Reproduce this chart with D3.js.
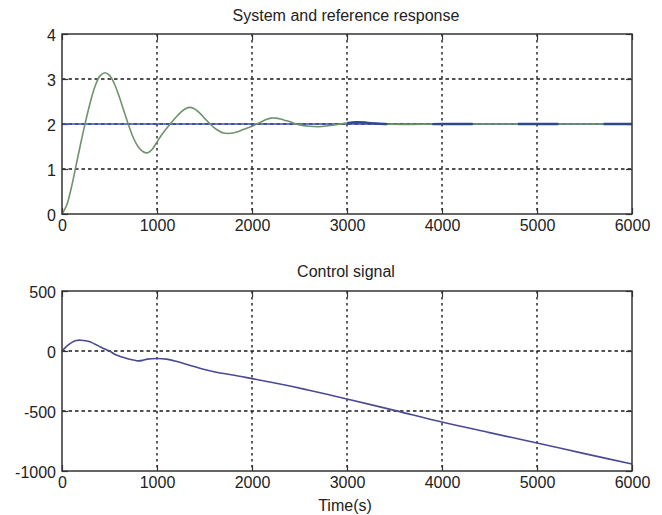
<!DOCTYPE html>
<html>
<head>
<meta charset="utf-8">
<script src="https://cdn.jsdelivr.net/npm/d3@7"></script>
<style>
  body { margin: 0; background: #fff; }
  text { font-family: "Liberation Sans", Arial, sans-serif; fill: #222; }
</style>
</head>
<body>
<svg width="662" height="515"></svg>
<script>
// system response (green) and reference (blue)
var respTime = [0, 50, 100, 150, 200, 250, 300, 350, 400, 450, 500, 550, 600, 650, 700, 750, 800, 850, 900, 950,
  1000, 1050, 1100, 1150, 1200, 1250, 1300, 1350, 1400, 1450, 1500, 1550, 1600, 1650, 1700, 1750, 1800, 1850, 1900, 1950,
  2000, 2050, 2100, 2150, 2200, 2250, 2300, 2350, 2400, 2450, 2500, 2600, 2700, 2800, 2900, 3000, 3100, 3200, 3300, 3400,
  3600, 4000, 5000, 6000];
var respValue = [0, 0.2, 0.6, 1.1, 1.6, 2.07, 2.5, 2.85, 3.07, 3.14, 3.08, 2.9, 2.62, 2.3, 1.98, 1.7, 1.5, 1.39, 1.36, 1.44,
  1.6, 1.76, 1.9, 2.03, 2.15, 2.26, 2.34, 2.37, 2.33, 2.24, 2.13, 2.02, 1.92, 1.85, 1.8, 1.79, 1.8, 1.83, 1.87, 1.91,
  1.95, 2.0, 2.05, 2.1, 2.13, 2.13, 2.11, 2.08, 2.05, 2.01, 1.98, 1.95, 1.94, 1.96, 1.99, 2.02, 2.04, 2.03, 2.01, 2.0,
  1.99, 2.0, 2.0, 2.0];
var refTime = [0, 6000];
var refValue = [2, 2];

// control signal
var ctrlTime = [0, 50, 100, 150, 200, 250, 300, 350, 400, 450, 500, 550, 600, 650, 700, 750, 800, 850, 900, 1000,
  1100, 1200, 1300, 1400, 1500, 1600, 1700, 1800, 1900, 2000, 2200, 2400, 2600, 2800, 3000, 3500, 4000, 4500, 5000, 5500, 6000];
var ctrlValue = [0, 40, 70, 88, 90, 86, 75, 56, 36, 16, 0, -25, -42, -55, -66, -75, -82, -78, -68, -63,
  -68, -85, -108, -132, -155, -173, -188, -200, -215, -230, -260, -292, -327, -363, -400, -495, -592, -680, -767, -855, -942];

var xTicks = [0, 1000, 2000, 3000, 4000, 5000, 6000];
var topYTicks = [0, 1, 2, 3, 4];
var botYTicks = [-1000, -500, 0, 500];

var svg = d3.select('svg');

function zip(a, b) {
  return a.map(function (d, i) { return [d, b[i]]; });
}

// matlab prints a plain hyphen for negatives
function plain(d) { return String(d); }

function makeAxes(top, bottom, yDomain, yTicks, title, titleY) {
  var x = d3.scaleLinear().domain([0, 6000]).range([62, 632]);
  var y = d3.scaleLinear().domain(yDomain).range([bottom, top]);

  var g = svg.append('g');

  // grid
  g.selectAll('.vg')
  .data(xTicks.slice(1, -1))
  .enter().append('line')
  .attr('x1', function (d) { return x(d); })
  .attr('x2', function (d) { return x(d); })
  .attr('y1', top)
  .attr('y2', bottom)
  .attr('stroke', '#1a1a1a')
  .attr('stroke-width', 1.4)
  .attr('stroke-dasharray', '2.5,3.5');

  g.selectAll('.hg')
  .data(yTicks.slice(1, -1))
  .enter().append('line')
  .attr('x1', 62)
  .attr('x2', 632)
  .attr('y1', function (d) { return y(d); })
  .attr('y2', function (d) { return y(d); })
  .attr('stroke', '#1a1a1a')
  .attr('stroke-width', 1.4)
  .attr('stroke-dasharray', '3.5,3');

  // inward ticks (matlab style)
  var xa = d3.axisBottom(x).tickValues(xTicks).tickSizeInner(-6).tickSizeOuter(0).tickFormat(plain);
  var xa2 = d3.axisTop(x).tickValues(xTicks).tickSizeInner(-6).tickSizeOuter(0).tickFormat('');
  var ya = d3.axisLeft(y).tickValues(yTicks).tickSizeInner(-6).tickSizeOuter(0).tickFormat(plain);
  var ya2 = d3.axisRight(y).tickValues(yTicks).tickSizeInner(-6).tickSizeOuter(0).tickFormat('');

  var gx = g.append('g').attr('transform', 'translate(0,' + bottom + ')').call(xa);
  g.append('g').attr('transform', 'translate(0,' + top + ')').call(xa2);
  var gy = g.append('g').attr('transform', 'translate(62,0)').call(ya);
  g.append('g').attr('transform', 'translate(632,0)').call(ya2);

  g.selectAll('.domain').remove();
  g.selectAll('.tick line').attr('stroke', '#333').attr('stroke-width', 1.2);

  gx.selectAll('text')
  .attr('y', 6)
  .attr('dy', '0.71em')
  .style('font-size', '16px')
  .style('fill', '#222');

  gy.selectAll('text')
  .attr('x', -6)
  .attr('dy', '0.4em')
  .style('font-size', '16px')
  .style('fill', '#222');

  svg.append('text')
  .text(title)
  .attr('x', 346)
  .attr('y', titleY)
  .attr('text-anchor', 'middle')
  .attr('font-size', 16);

  return { x: x, y: y, g: g, top: top, bottom: bottom };
}

function drawBox(ax) {
  ax.g.append('rect')
  .attr('x', 62)
  .attr('y', ax.top)
  .attr('width', 570)
  .attr('height', ax.bottom - ax.top)
  .attr('fill', 'none')
  .attr('stroke', '#333')
  .attr('stroke-width', 1.5);
}

// top plot
var a1 = makeAxes(34, 214, [0, 4], topYTicks, 'System and reference response', 21);

var line1 = d3.line()
  .x(function (d) { return a1.x(d[0]); })
  .y(function (d) { return a1.y(d[1]); })
  .curve(d3.curveCatmullRom);

a1.g.append('path')
.datum(zip(refTime, refValue))
.attr('d', line1)
.attr('fill', 'none')
.attr('stroke', '#4050ac')
.attr('stroke-width', 1.5);

a1.g.append('path')
.datum(zip(respTime, respValue))
.attr('d', line1)
.attr('fill', 'none')
.attr('stroke', '#6f936c')
.attr('stroke-width', 1.6);

// where both lines overlap, the blue one shows through in long stretches
var dash = a1.x(450) - a1.x(0);
a1.g.append('path')
.datum(zip(respTime, respValue).filter(function (d) { return d[0] >= 2950; }))
.attr('d', line1)
.attr('fill', 'none')
.attr('stroke', '#2f4a8a')
.attr('stroke-width', 2.4)
.attr('stroke-dasharray', (dash * 0.95) + ',' + (dash * 1.05));

drawBox(a1);

// bottom plot
var a2 = makeAxes(291, 471, [-1000, 500], botYTicks, 'Control signal', 277);

var line2 = d3.line()
  .x(function (d) { return a2.x(d[0]); })
  .y(function (d) { return a2.y(d[1]); })
  .curve(d3.curveCatmullRom);

a2.g.append('path')
.datum(zip(ctrlTime, ctrlValue))
.attr('d', line2)
.attr('fill', 'none')
.attr('stroke', '#4a4a94')
.attr('stroke-width', 1.6);

drawBox(a2);

svg.append('text')
.text('Time(s)')
.attr('x', 345)
.attr('y', 511)
.attr('text-anchor', 'middle')
.attr('font-size', 16);
</script>
</body>
</html>
